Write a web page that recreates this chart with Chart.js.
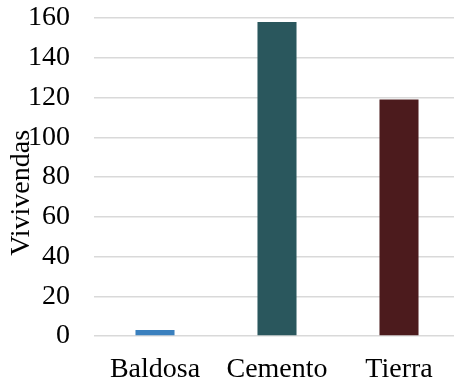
<!DOCTYPE html>
<html>
<head>
<meta charset="utf-8">
<script src="https://cdn.jsdelivr.net/npm/chart.js@4/dist/chart.umd.min.js"></script>
<style>
  html, body { margin: 0; padding: 0; background: #ffffff; overflow: hidden; }
  canvas { display: block; }
</style>
</head>
<body>
<canvas id="chart" width="462" height="380"></canvas>
<script>
// Floor material of the dwellings
const categories = ['Baldosa', 'Cemento', 'Tierra'];
const viviendas = [3, 158, 119];
const barColors = ['#3A80BE', '#2A575D', '#4C1B1D'];
const yTitle = 'Vivivendas';
const yMax = 160;
const yStep = 20;

const FONT = "'Liberation Serif', 'Times New Roman', serif";
const FONT_SIZE = 28;

// Rotated axis title, placed a little below the middle of the plot area
const sideTitle = {
  id: 'sideTitle',
  afterDraw(chart) {
    const { ctx, chartArea } = chart;
    const cy = chartArea.top + (chartArea.bottom - chartArea.top) * 0.55;
    ctx.save();
    ctx.translate(22, cy);
    ctx.rotate(-Math.PI / 2);
    ctx.font = FONT_SIZE + 'px ' + FONT;
    ctx.fillStyle = '#000000';
    ctx.textAlign = 'center';
    ctx.textBaseline = 'middle';
    ctx.fillText(yTitle, 0, 0);
    ctx.restore();
  }
};

new Chart(document.getElementById('chart'), {
  type: 'bar',
  data: {
    labels: categories,
    datasets: [{
      data: viviendas,
      backgroundColor: barColors,
      borderWidth: 0,
      categoryPercentage: 1,
      barPercentage: 0.32
    }]
  },
  options: {
    responsive: false,
    animation: false,
    devicePixelRatio: 1,
    layout: { padding: { left: 30, top: 18, right: 2, bottom: 0 } },
    plugins: { legend: { display: false }, tooltip: { enabled: false } },
    scales: {
      x: {
        grid: { display: false, drawTicks: false },
        border: { display: false },
        ticks: { color: '#000000', font: { family: FONT, size: FONT_SIZE }, padding: 17 },
        afterFit(scale) {
          scale.height = 44;
          scale.paddingLeft = 0;
          scale.paddingRight = 0;
        }
      },
      y: {
        min: 0,
        max: yMax,
        ticks: { stepSize: yStep, autoSkip: false, color: '#000000', font: { family: FONT, size: FONT_SIZE }, padding: 24 },
        grid: { color: '#d9d9d9', lineWidth: 1.5, drawTicks: false },
        border: { display: false },
        afterFit(scale) {
          scale.width = 64;
          scale.paddingTop = 0;
          scale.paddingBottom = 0;
        }
      }
    }
  },
  plugins: [sideTitle]
});
</script>
</body>
</html>
